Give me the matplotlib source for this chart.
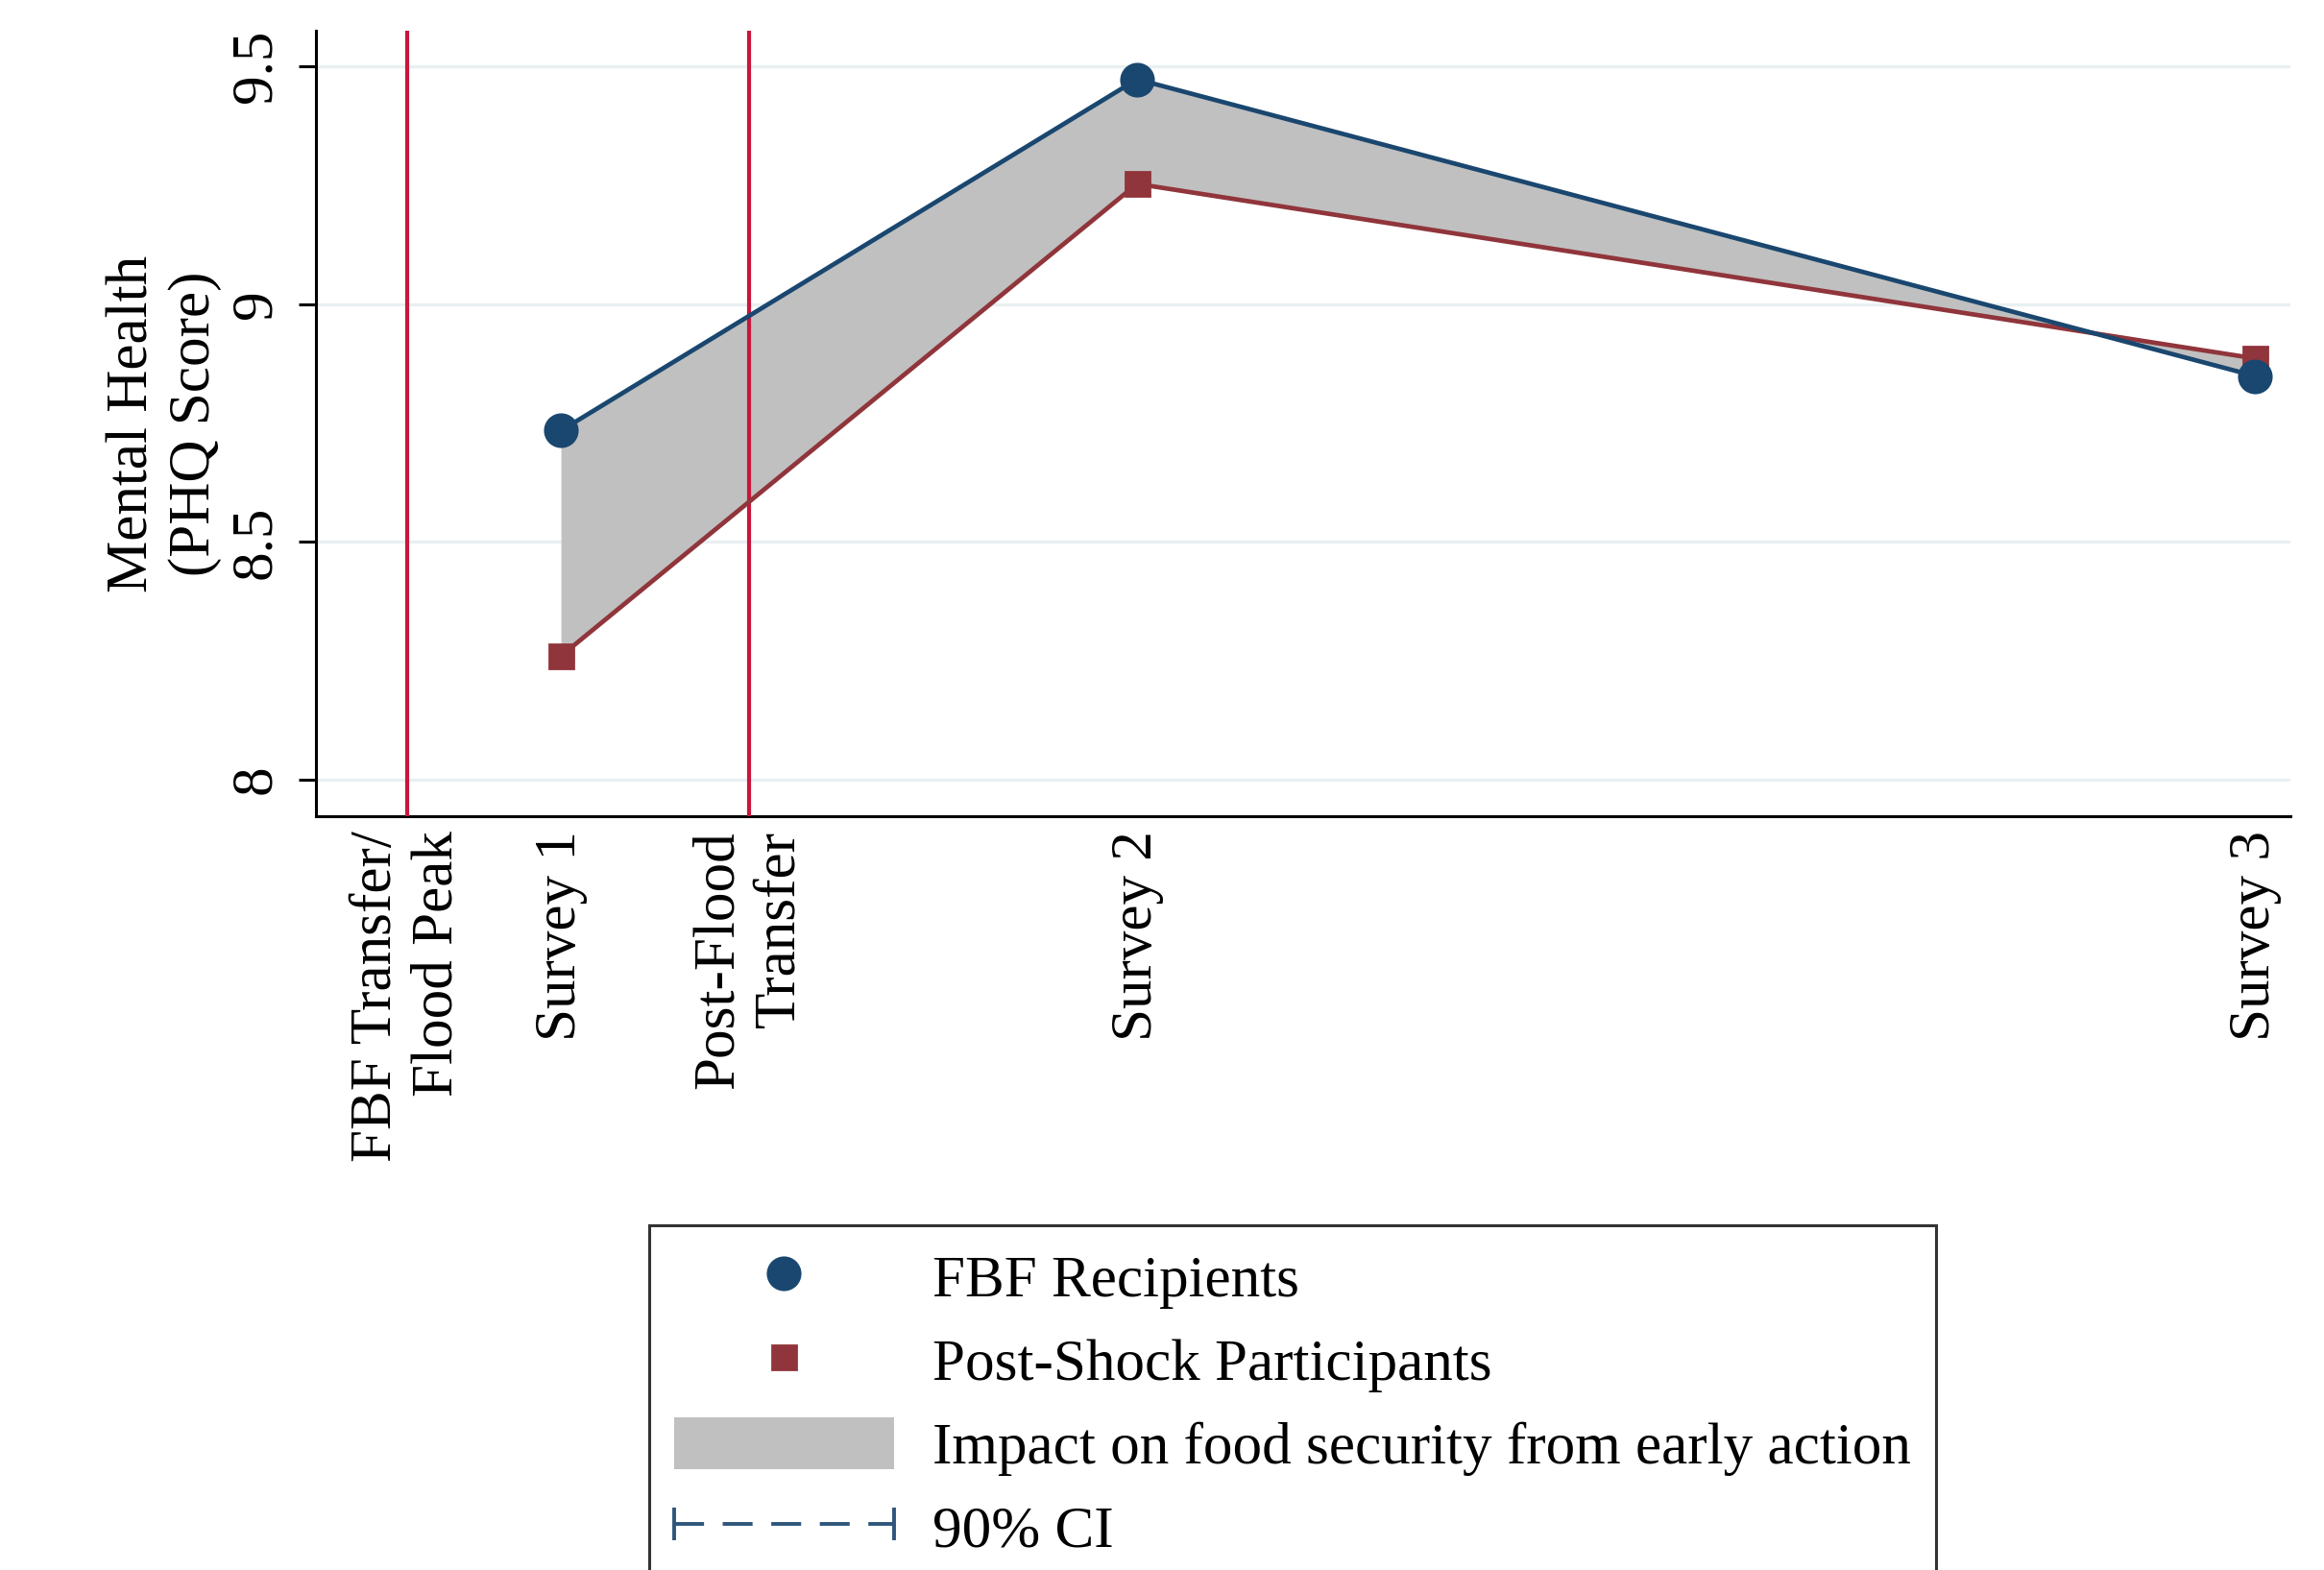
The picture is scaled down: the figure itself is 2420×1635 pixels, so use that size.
import numpy as np
import matplotlib as mpl
mpl.use('Agg')
import matplotlib.pyplot as plt
from matplotlib.lines import Line2D
from matplotlib.patches import Patch
from matplotlib.legend_handler import HandlerLine2D

plt.rcParams['font.family'] = ['Liberation Serif', 'DejaVu Serif']

# eventos en el eje x (dias desde el pico de la inundacion)
event_labels = ['FBF Transfer/\nFlood Peak', 'Survey 1', 'Post-Flood\nTransfer', 'Survey 2', 'Survey 3']
event_x = [0, 40, 89, 190, 481]
transfer_x = [0, 89]

# encuestas
survey_x = [40, 190, 481]
fbf = [8.734, 9.473, 8.849]   # FBF Recipients
post = [8.26, 9.253, 8.886]   # Post-Shock Participants

y_ticks = [8, 8.5, 9, 9.5]
y_ticklabels = ['8', '8.5', '9', '9.5']

navy = '#1a476f'
maroon = '#90353b'
red = '#c8163c'
gray = '#c0c0c0'
grid = '#e9f0f2'

fig = plt.figure(figsize=(12.1, 8.175), dpi=200)
ax = fig.add_axes([0.136, 0.4801, 0.9855 - 0.136, 0.9804 - 0.4801])

ax.fill_between(survey_x, fbf, post, color=gray, lw=0, zorder=2)
ax.plot(survey_x, post, color=maroon, lw=1.7, marker='s', ms=9, zorder=4)
ax.plot(survey_x, fbf, color=navy, lw=1.7, marker='o', ms=12, zorder=5)
for xv in transfer_x:
    ax.axvline(xv, color=red, lw=1.5, zorder=3)

ax.set_xlim(-23.75, 490.25)
ax.set_ylim(7.923, 9.575)
ax.set_yticks(y_ticks)
ax.set_yticklabels(y_ticklabels, rotation=90, va='center')
ax.set_xticks(event_x)
ax.set_xticklabels(event_labels, rotation=90, va='top', ha='center', multialignment='right')
ax.tick_params(axis='x', length=0, pad=5.5, labelsize=22)
ax.tick_params(axis='y', length=6.5, width=1.1, pad=6, labelsize=22)
ax.grid(axis='y', color=grid, lw=1.2, zorder=0)
ax.set_axisbelow(True)
for s in ['top', 'right']:
    ax.spines[s].set_visible(False)
for s in ['left', 'bottom']:
    ax.spines[s].set_linewidth(1.1)
ax.set_ylabel('Mental Health\n(PHQ Score)', fontsize=22, labelpad=3)

handles = [
    Line2D([], [], color=navy, marker='o', ls='none', ms=12),
    Line2D([], [], color=maroon, marker='s', ls='none', ms=9),
    Patch(facecolor=gray, edgecolor='none'),
    Line2D([], [], color='#2f557a', ls=(0, (8, 5)), lw=1.4, marker='|', ms=12, mew=1.4),
]
labels = ['FBF Recipients', 'Post-Shock Participants',
          'Impact on food security from early action', '90% CI']
leg = fig.legend(handles, labels, loc='upper left', bbox_to_anchor=(0.2793, 0.2196),
                 borderaxespad=0, fontsize=22, frameon=True, fancybox=False,
                 edgecolor='black', handlelength=3.75, handleheight=1.0,
                 handletextpad=0.66, labelspacing=0.42, borderpad=0.42,
                 handler_map={handles[3]: HandlerLine2D(numpoints=2, marker_pad=0)})
leg.get_frame().set_linewidth(1.1)

fig.savefig('out.png', dpi=200)
